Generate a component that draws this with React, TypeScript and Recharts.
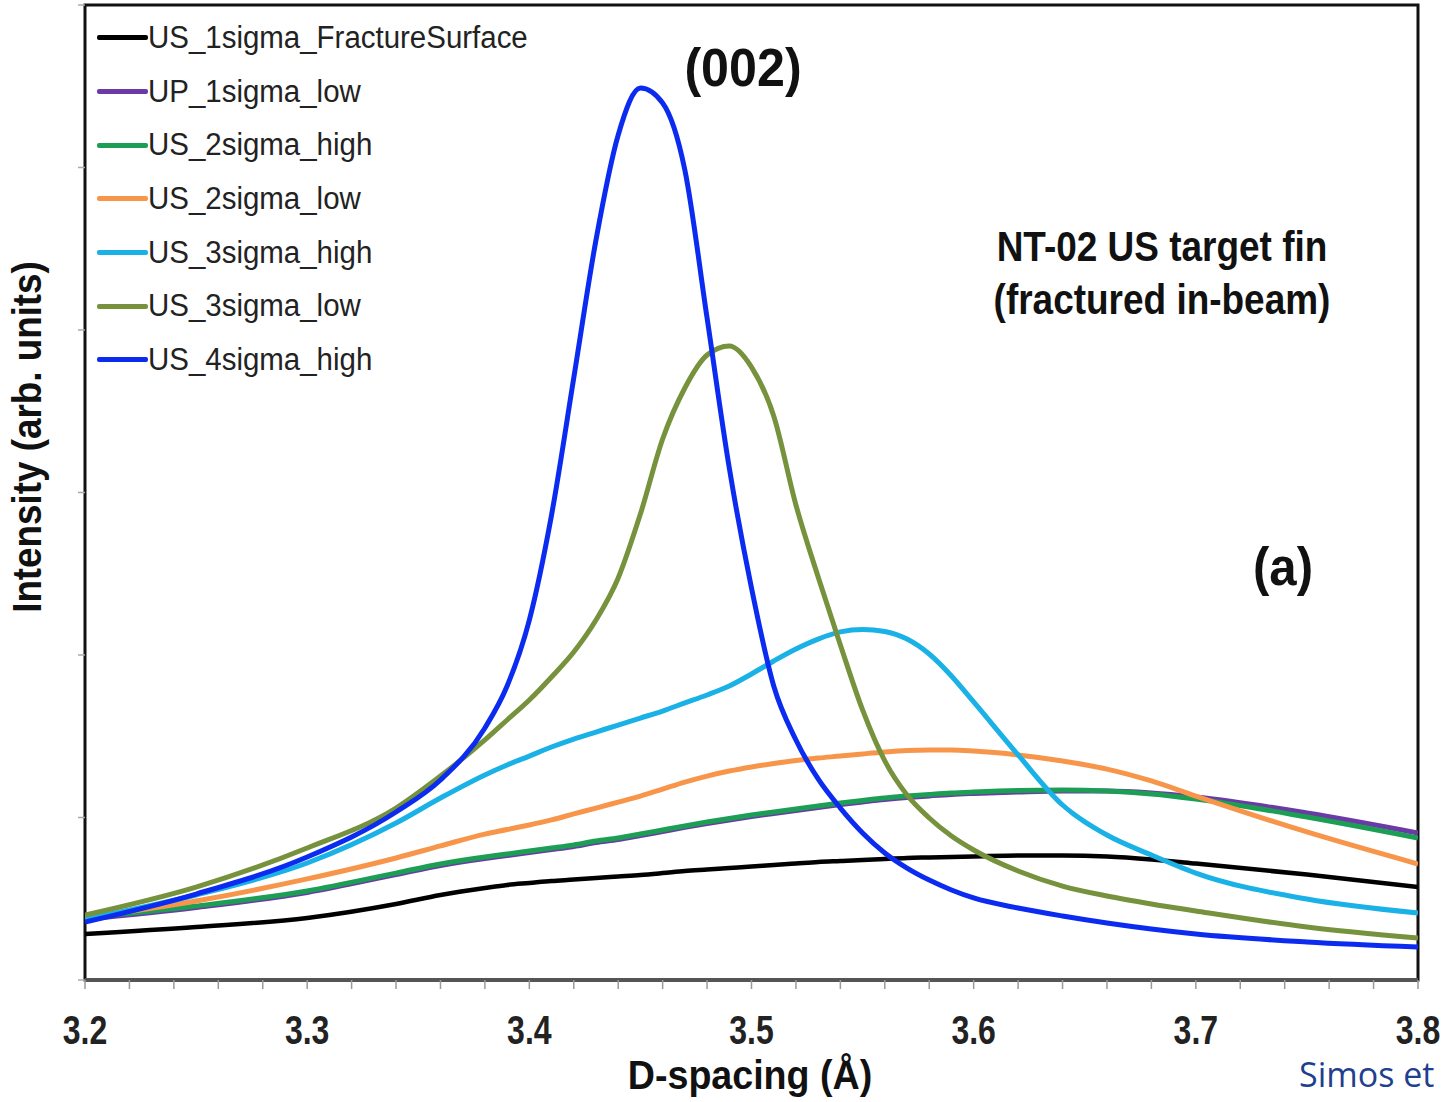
import React from "react";
import { LineChart, Line, XAxis, YAxis, Legend, ReferenceArea } from "recharts";

// D-spacing sample positions (Å)
const dSpacing = [
  3.2, 3.25, 3.3, 3.34, 3.36, 3.38, 3.39, 3.4, 3.41, 3.42, 3.43, 3.44, 3.45, 3.46,
  3.47, 3.48, 3.49, 3.5, 3.51, 3.52, 3.53, 3.54, 3.55, 3.56, 3.57, 3.58, 3.59,
  3.6, 3.62, 3.64, 3.66, 3.68, 3.7, 3.75, 3.8,
];

// intensities (arb. units)
const us1sigmaFracture = [
  0.283, 0.326, 0.382, 0.468, 0.523, 0.566, 0.585, 0.597, 0.609, 0.618, 0.628, 0.637,
  0.646, 0.658, 0.671, 0.68, 0.689, 0.698, 0.708, 0.717, 0.726, 0.732, 0.738, 0.745,
  0.751, 0.754, 0.757, 0.76, 0.766, 0.766, 0.76, 0.742, 0.717, 0.649, 0.572,
];
const up1sigmaLow = [
  0.373, 0.446, 0.539, 0.649, 0.705, 0.748, 0.766, 0.785, 0.803, 0.822, 0.846, 0.865,
  0.889, 0.914, 0.939, 0.963, 0.985, 1.006, 1.025, 1.043, 1.062, 1.08, 1.096, 1.111,
  1.123, 1.133, 1.142, 1.148, 1.157, 1.163, 1.163, 1.151, 1.126, 1.028, 0.905,
];
const us2sigmaHigh = [
  0.382, 0.455, 0.548, 0.658, 0.714, 0.757, 0.775, 0.794, 0.812, 0.831, 0.855, 0.874,
  0.898, 0.923, 0.948, 0.972, 0.994, 1.015, 1.034, 1.052, 1.071, 1.089, 1.105, 1.12,
  1.132, 1.142, 1.151, 1.157, 1.166, 1.169, 1.163, 1.145, 1.114, 1.003, 0.874,
];
const us2sigmaLow = [
  0.382, 0.486, 0.622, 0.751, 0.825, 0.898, 0.926, 0.954, 0.985, 1.022, 1.058, 1.095,
  1.132, 1.175, 1.218, 1.255, 1.286, 1.311, 1.332, 1.351, 1.366, 1.378, 1.391, 1.403,
  1.412, 1.415, 1.415, 1.409, 1.385, 1.348, 1.298, 1.225, 1.132, 0.911, 0.714,
];
const us3sigmaHigh = [
  0.375, 0.523, 0.72, 0.966, 1.12, 1.262, 1.323, 1.378, 1.434, 1.483, 1.526, 1.569,
  1.612, 1.655, 1.705, 1.754, 1.809, 1.883, 1.963, 2.037, 2.098, 2.142, 2.157, 2.145,
  2.098, 2.006, 1.871, 1.711, 1.385, 1.077, 0.892, 0.769, 0.658, 0.498, 0.412,
];
const us3sigmaLow = [
  0.4, 0.572, 0.812, 1.058, 1.255, 1.477, 1.6, 1.723, 1.865, 2.018, 2.215, 2.474,
  2.868, 3.329, 3.643, 3.846, 3.902, 3.772, 3.471, 2.923, 2.48, 2.062, 1.662, 1.348,
  1.138, 0.997, 0.886, 0.8, 0.671, 0.578, 0.517, 0.468, 0.425, 0.326, 0.258,
];
const us4sigmaHigh = [
  0.357, 0.529, 0.757, 1.034, 1.231, 1.551, 1.809, 2.215, 2.862, 3.705, 4.554, 5.2,
  5.489, 5.397, 4.985, 4.074, 3.151, 2.412, 1.809, 1.477, 1.237, 1.058, 0.905, 0.782,
  0.689, 0.615, 0.554, 0.505, 0.443, 0.394, 0.351, 0.314, 0.283, 0.234, 0.203,
];

const xTicks = [
  3.2, 3.22, 3.24, 3.26, 3.28, 3.3, 3.32, 3.34, 3.36, 3.38, 3.4, 3.42, 3.44, 3.46,
  3.48, 3.5, 3.52, 3.54, 3.56, 3.58, 3.6, 3.62, 3.64, 3.66, 3.68, 3.7, 3.72, 3.74,
  3.76, 3.78, 3.8,
];
const yTicks = [0, 1, 2, 3, 4, 5, 6];

const series = [
  { key: "s1", name: "US_1sigma_FractureSurface", color: "#000000", values: us1sigmaFracture },
  { key: "s2", name: "UP_1sigma_low", color: "#6b3aa6", values: up1sigmaLow },
  { key: "s3", name: "US_2sigma_high", color: "#1c9e55", values: us2sigmaHigh },
  { key: "s4", name: "US_2sigma_low", color: "#f7964a", values: us2sigmaLow },
  { key: "s5", name: "US_3sigma_high", color: "#1ab1e6", values: us3sigmaHigh },
  { key: "s6", name: "US_3sigma_low", color: "#76923c", values: us3sigmaLow },
  { key: "s7", name: "US_4sigma_high", color: "#0b2cf0", values: us4sigmaHigh },
];

const rows = dSpacing.map((d, i) => {
  const row: any = { d };
  series.forEach((s) => (row[s.key] = s.values[i]));
  return row;
});

const FONT = "'Liberation Sans', Arial, Helvetica, sans-serif";

function XTick(props: any) {
  const { x, y, payload } = props;
  const v = payload.value;
  const major = Math.abs(v * 10 - Math.round(v * 10)) < 1e-6;
  if (!major) return <g />;
  return (
    <g transform={`translate(${x},${y + 53})`}>
      <text textAnchor="middle" transform="scale(0.8,1)" fontSize={40} fontWeight="bold" fontFamily={FONT} fill="#222">
        {v.toFixed(1)}
      </text>
    </g>
  );
}

function LegendBox() {
  return (
    <div style={{ fontFamily: FONT }}>
      {series.map((s) => (
        <div key={s.key} style={{ height: 53.7, display: "flex", alignItems: "center" }}>
          <div style={{ width: 51, height: 5, background: s.color, borderRadius: 2 }} />
          <div
            style={{
              fontSize: 31,
              color: "#222",
              whiteSpace: "nowrap",
              transform: "scaleX(0.95)",
              transformOrigin: "left center",
            }}
          >
            {s.name}
          </div>
        </div>
      ))}
    </div>
  );
}

function Note({ x, y, size, sx, children, rotate, weight = "bold", color = "#111", family = FONT }: any) {
  return (
    <div
      style={{
        position: "absolute",
        left: x,
        top: y,
        fontFamily: family,
        fontSize: size,
        fontWeight: weight,
        color,
        lineHeight: 1,
        whiteSpace: "nowrap",
        transform: `translate(-50%, -50%)${rotate ? " rotate(-90deg)" : ""} scaleX(${sx})`,
      }}
    >
      {children}
    </div>
  );
}

export default function App() {
  return (
    <div
      style={{
        position: "absolute",
        left: 0,
        top: 0,
        width: 1441,
        height: 1102,
        overflow: "hidden",
        background: "#fff",
      }}
    >
      <LineChart width={1441} height={1102} data={rows} margin={{ top: 5, right: 23, bottom: 62, left: 75 }}>
        <XAxis
          type="number"
          dataKey="d"
          domain={[3.2, 3.8]}
          ticks={xTicks}
          interval={0}
          allowDataOverflow
          height={60}
          tickSize={9}
          tick={<XTick />}
          tickLine={{ stroke: "#9a9a9a", strokeWidth: 1.5 }}
          axisLine={{ stroke: "#555", strokeWidth: 4 }}
        />
        <YAxis
          type="number"
          domain={[0, 6]}
          ticks={yTicks}
          width={10}
          tickSize={7}
          tickFormatter={() => ""}
          tickLine={{ stroke: "#aaa", strokeWidth: 1.5 }}
          axisLine={false}
        />
        {series.map((s) => (
          <Line
            key={s.key}
            type="monotone"
            dataKey={s.key}
            name={s.name}
            stroke={s.color}
            strokeWidth={s.key === "s1" ? 4.5 : 5}
            dot={false}
            activeDot={false}
            isAnimationActive={false}
          />
        ))}
        <ReferenceArea x1={3.2} x2={3.8} y1={0} y2={6} fill="none" stroke="#111" strokeWidth={3} ifOverflow="visible" />
        <Legend
          layout="vertical"
          align="center"
          verticalAlign="middle"
          content={() => <LegendBox />}
          wrapperStyle={{ left: 97, top: 11, width: "auto" }}
        />
      </LineChart>

      <Note x={743} y={67} size={54} sx={0.93}>(002)</Note>
      <Note x={1162} y={247} size={42} sx={0.88}>NT-02 US target fin</Note>
      <Note x={1162} y={300} size={42} sx={0.88}>(fractured in-beam)</Note>
      <Note x={1283} y={566} size={54} sx={0.91}>(a)</Note>
      <Note x={27} y={437} size={40} sx={0.92} rotate>
        Intensity (arb. units)
      </Note>
      <Note x={750} y={1075} size={40} sx={0.94}>D-spacing (Å)</Note>
      <div
        style={{
          position: "absolute",
          left: 1299,
          top: 1057,
          fontFamily: "'Open Sans', 'Noto Sans', sans-serif",
          fontSize: 34,
          color: "#1f3f8f",
          whiteSpace: "nowrap",
          lineHeight: 1,
        }}
      >
        Simos et
      </div>
    </div>
  );
}
